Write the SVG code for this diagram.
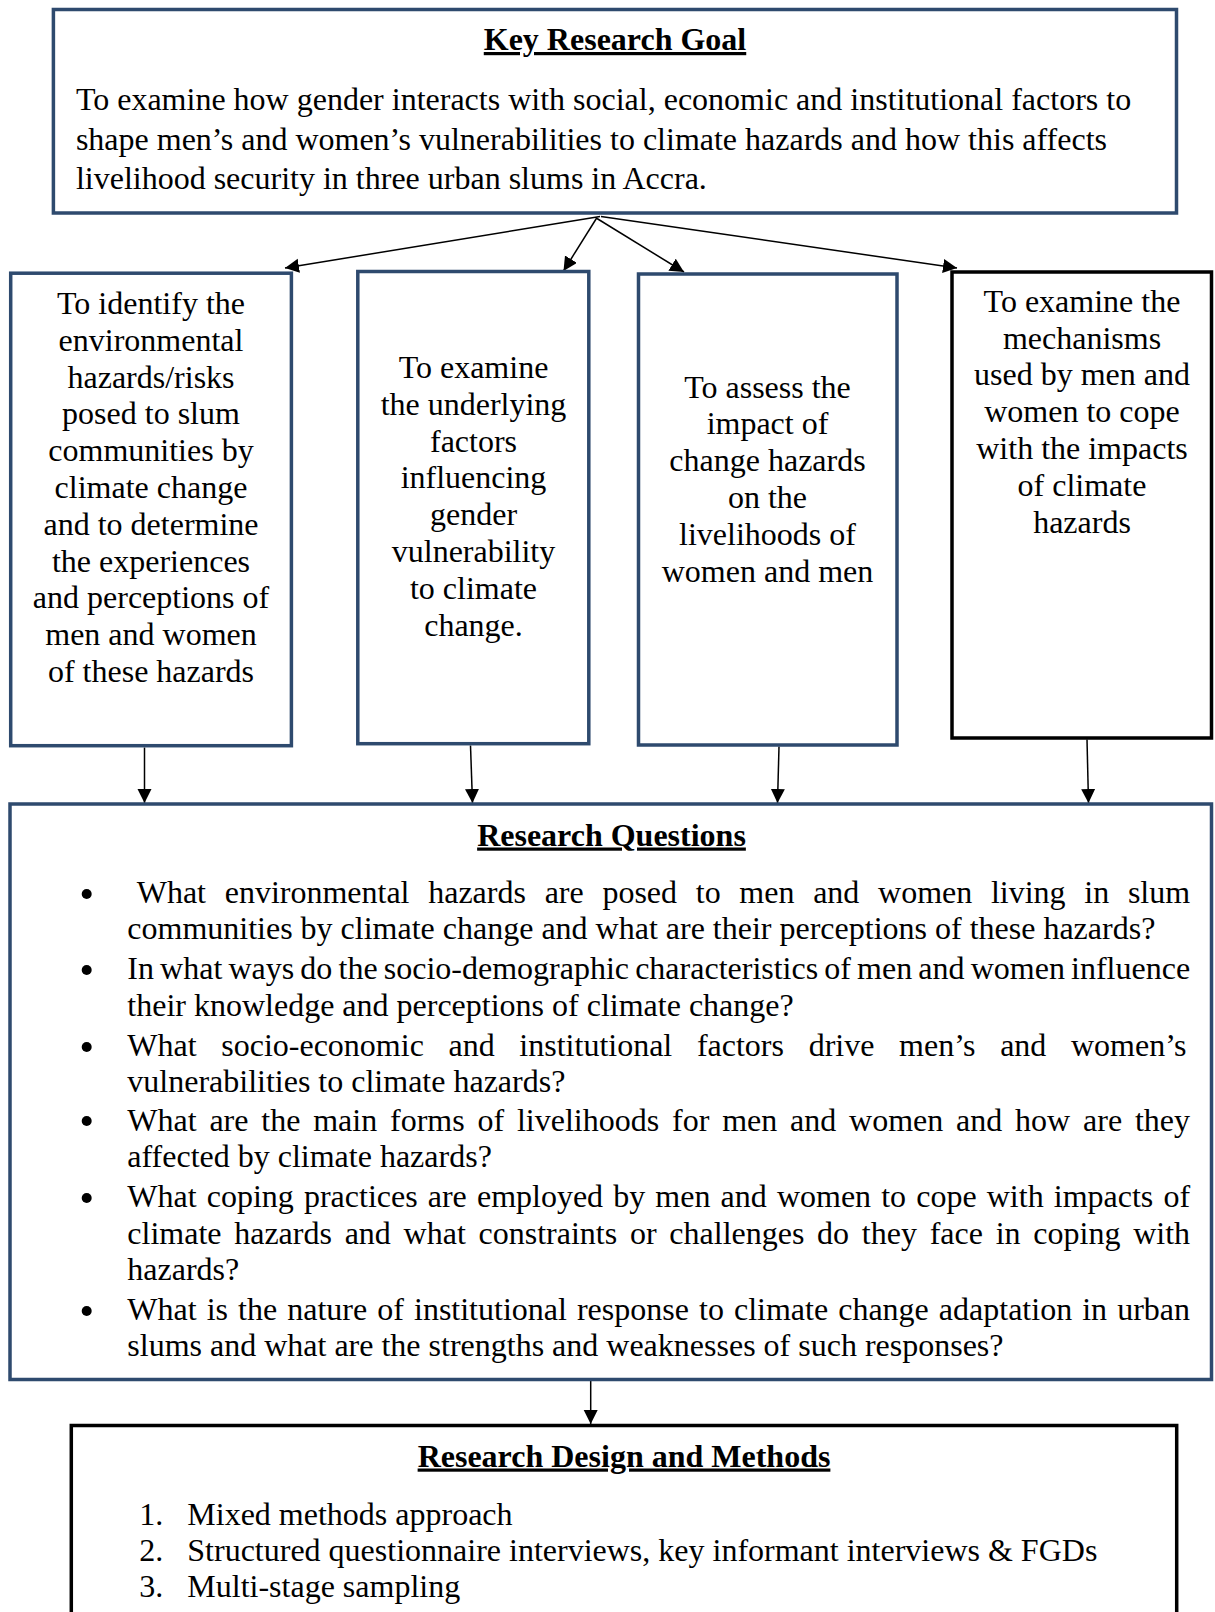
<svg xmlns="http://www.w3.org/2000/svg" width="1215" height="1612" viewBox="0 0 1215 1612">
<defs>
<style>
text{font-family:"Liberation Serif","Times New Roman",serif;font-size:32px;fill:#000}
.t{font-weight:bold;text-decoration:underline;text-anchor:middle}
.c{text-anchor:middle}
.nb{fill:#fff;stroke:#2E4A6E;stroke-width:3.5}
.kb{fill:#fff;stroke:#000;stroke-width:3.5}
.cn{stroke:#000;stroke-width:1.5;fill:none;marker-end:url(#ah)}
</style>
<marker id="ah" markerUnits="userSpaceOnUse" markerWidth="15" markerHeight="15" refX="14" refY="7" orient="auto">
<path d="M0,0 L14,7 L0,14 z" fill="#000"/>
</marker>
</defs>
<rect width="1215" height="1612" fill="#fff"/>

<g id="connectors">
<line class="cn" x1="600" y1="216.5" x2="285" y2="268"/>
<line class="cn" x1="597" y1="217.5" x2="563.5" y2="271"/>
<line class="cn" x1="597" y1="218.5" x2="684" y2="272"/>
<line class="cn" x1="601" y1="216.5" x2="957" y2="268"/>
<line class="cn" x1="144.5" y1="747.5" x2="144.5" y2="803"/>
<line class="cn" x1="470.5" y1="745.5" x2="472.5" y2="803"/>
<line class="cn" x1="779" y1="746.5" x2="777.5" y2="803"/>
<line class="cn" x1="1087" y1="739.5" x2="1088.5" y2="803"/>
<line class="cn" x1="590.7" y1="1381" x2="590.7" y2="1424"/>
</g>

<g id="goal">
<rect class="nb" x="53.4" y="9.5" width="1123.1" height="203.5"/>
<text class="t" x="615" y="50">Key Research Goal</text>
<text x="75.9" y="110">To examine how gender interacts with social, economic and institutional factors to</text>
<text x="75.9" y="149.5">shape men’s and women’s vulnerabilities to climate hazards and how this affects</text>
<text x="75.9" y="189">livelihood security in three urban slums in Accra.</text>
</g>

<g id="obj1">
<rect class="nb" x="10.7" y="273.2" width="280.7" height="472.5"/>
<text class="c" x="151" y="314">To identify the</text>
<text class="c" x="151" y="350.8">environmental</text>
<text class="c" x="151" y="387.6">hazards/risks</text>
<text class="c" x="151" y="424.4">posed to slum</text>
<text class="c" x="151" y="461.2">communities by</text>
<text class="c" x="151" y="498">climate change</text>
<text class="c" x="151" y="534.8">and to determine</text>
<text class="c" x="151" y="571.6">the experiences</text>
<text class="c" x="151" y="608.4">and perceptions of</text>
<text class="c" x="151" y="645.2">men and women</text>
<text class="c" x="151" y="682">of these hazards</text>
</g>

<g id="obj2">
<rect class="nb" x="357.8" y="271.5" width="231" height="472.2"/>
<text class="c" x="473.5" y="378">To examine</text>
<text class="c" x="473.5" y="414.8">the underlying</text>
<text class="c" x="473.5" y="451.6">factors</text>
<text class="c" x="473.5" y="488.4">influencing</text>
<text class="c" x="473.5" y="525.2">gender</text>
<text class="c" x="473.5" y="562">vulnerability</text>
<text class="c" x="473.5" y="598.8">to climate</text>
<text class="c" x="473.5" y="635.6">change.</text>
</g>

<g id="obj3">
<rect class="nb" x="638.5" y="274" width="258.5" height="471"/>
<text class="c" x="767.5" y="397.5">To assess the</text>
<text class="c" x="767.5" y="434.3">impact of</text>
<text class="c" x="767.5" y="471.1">change hazards</text>
<text class="c" x="767.5" y="507.9">on the</text>
<text class="c" x="767.5" y="544.7">livelihoods of</text>
<text class="c" x="767.5" y="581.5">women and men</text>
</g>

<g id="obj4">
<rect class="kb" x="952" y="272" width="259.5" height="466"/>
<text class="c" x="1082" y="311.8">To examine the</text>
<text class="c" x="1082" y="348.6">mechanisms</text>
<text class="c" x="1082" y="385.4">used by men and</text>
<text class="c" x="1082" y="422.2">women to cope</text>
<text class="c" x="1082" y="459">with the impacts</text>
<text class="c" x="1082" y="495.8">of climate</text>
<text class="c" x="1082" y="532.6">hazards</text>
</g>

<g id="questions">
<rect class="nb" x="10" y="804" width="1201.5" height="575.5"/>
<text class="t" x="611.5" y="845.5">Research Questions</text>
<g fill="#000">
<circle cx="86.7" cy="894" r="5"/>
<circle cx="86.7" cy="970" r="5"/>
<circle cx="86.7" cy="1047" r="5"/>
<circle cx="86.7" cy="1121" r="5"/>
<circle cx="86.7" cy="1198" r="5"/>
<circle cx="86.7" cy="1311" r="5"/>
</g>
<text x="136.7" y="903" word-spacing="10.7">What environmental hazards are posed to men and women living in slum</text>
<text x="127.3" y="939.3">communities by climate change and what are their perceptions of these hazards?</text>
<text x="127.3" y="979.4" word-spacing="-1.85">In what ways do the socio-demographic characteristics of men and women influence</text>
<text x="127.3" y="1015.8">their knowledge and perceptions of climate change?</text>
<text x="127.3" y="1056" word-spacing="16.66">What socio-economic and institutional factors drive men’s and women’s</text>
<text x="127.3" y="1092.3">vulnerabilities to climate hazards?</text>
<text x="127.3" y="1130.6" word-spacing="4.82">What are the main forms of livelihoods for men and women and how are they</text>
<text x="127.3" y="1167">affected by climate hazards?</text>
<text x="127.3" y="1207.1" word-spacing="2.12">What coping practices are employed by men and women to cope with impacts of</text>
<text x="127.3" y="1243.5" word-spacing="4.74">climate hazards and what constraints or challenges do they face in coping with</text>
<text x="127.3" y="1279.9">hazards?</text>
<text x="127.3" y="1320" word-spacing="2.07">What is the nature of institutional response to climate change adaptation in urban</text>
<text x="127.3" y="1356.4">slums and what are the strengths and weaknesses of such responses?</text>
</g>

<g id="methods">
<rect class="kb" x="71.3" y="1425.5" width="1105.4" height="220"/>
<text class="t" x="624" y="1466.5">Research Design and Methods</text>
<text x="139.3" y="1524.5">1.</text>
<text x="187.3" y="1524.5">Mixed methods approach</text>
<text x="139.3" y="1560.5">2.</text>
<text x="187.3" y="1560.5">Structured questionnaire interviews, key informant interviews &amp; FGDs</text>
<text x="139.3" y="1596.5">3.</text>
<text x="187.3" y="1596.5">Multi-stage sampling</text>
</g>
</svg>
